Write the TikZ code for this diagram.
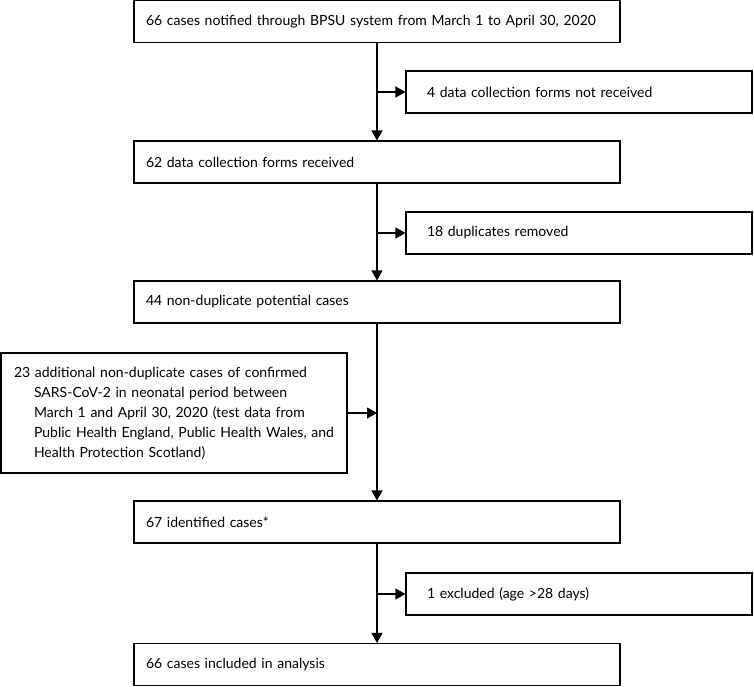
\documentclass[tikz,border=0pt]{standalone}
\usepackage{fontspec}
\setmainfont{Lato}
\usetikzlibrary{arrows.meta, positioning}

\begin{document}
\begin{tikzpicture}[
    x=1pt, y=-1pt,
    stage/.style={
        rectangle,
        draw=black,
        line width=1.1pt,
        text width=462pt,
        inner xsep=12pt,
        minimum height=42pt,
        align=left,
        font=\fontsize{14}{20}\selectfont
    },
    removed/.style={
        stage,
        text width=304pt,
        inner xsep=21pt
    },
    added/.style={
        stage,
        text width=320pt,
        inner xsep=13pt,
        minimum height=120pt
    },
    arrow/.style={
        -{Triangle[length=10pt, width=11pt]},
        line width=1.1pt
    }
]
\useasboundingbox (0,0) rectangle (754,686);

% Main flow nodes
\node[stage] (notified) at (377,21.5) {66 cases notified through BPSU system from March 1 to April 30, 2020};
\node[stage] (received) at (377,162) {62 data collection forms received};
\node[stage] (potential) at (377,302) {44 non-duplicate potential cases};
\node[stage] (identified) at (377,522) {67 identified cases*};
\node[stage] (included) at (377,664.5) {66 cases included in analysis};

% Side nodes
\node[removed] (notrec) at (579,92) {4 data collection forms not received};
\node[removed] (dupes) at (579,233) {18 duplicates removed};
\node[removed] (excluded) at (579,594) {1 excluded (age >28 days)};
\node[added] (extra) at (174,413) {23 additional non-duplicate cases of confirmed\\
    \hspace*{20pt}SARS-CoV-2 in neonatal period between\\
    \hspace*{20pt}March 1 and April 30, 2020 (test data from\\
    \hspace*{20pt}Public Health England, Public Health Wales, and\\
    \hspace*{20pt}Health Protection Scotland)};

% Draw connecting arrows
\draw[arrow] (notified.south) -- (received.north);
\draw[arrow] (received.south) -- (potential.north);
\draw[arrow] (potential.south) -- (identified.north);
\draw[arrow] (identified.south) -- (included.north);

\coordinate (split1) at (notified.south |- notrec.west);
\coordinate (split2) at (received.south |- dupes.west);
\coordinate (split3) at (identified.south |- excluded.west);
\coordinate (join) at (potential.south |- extra.east);

\draw[arrow] (split1) -- (notrec.west);
\draw[arrow] (split2) -- (dupes.west);
\draw[arrow] (split3) -- (excluded.west);
\draw[arrow] (extra.east) -- (join);

\end{tikzpicture}
\end{document}
